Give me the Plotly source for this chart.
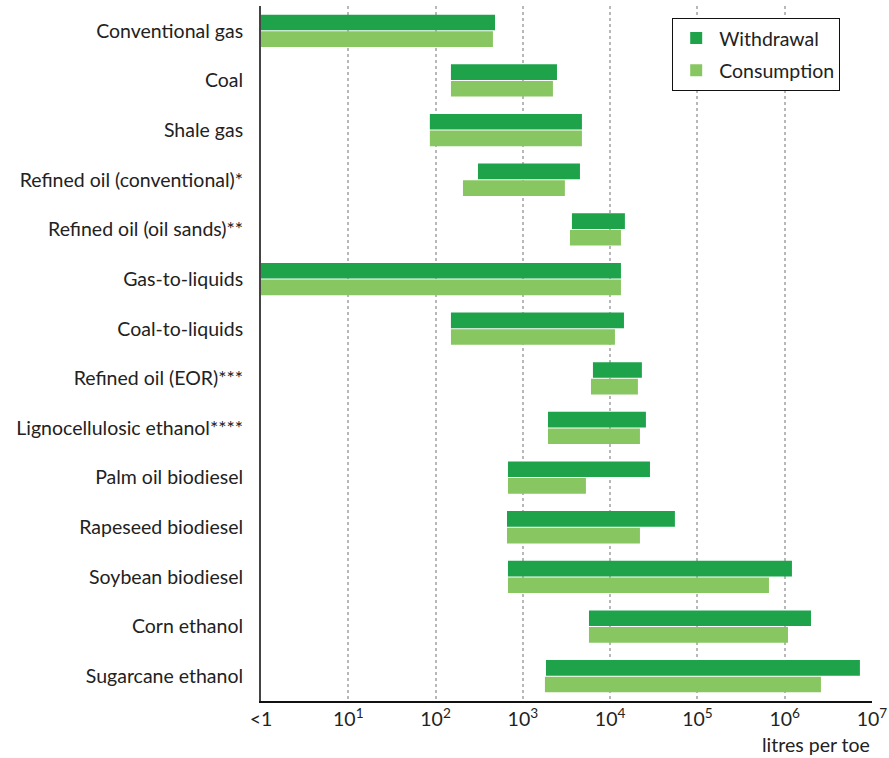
import plotly.graph_objects as go

# 카테고리 (위에서 아래 순서)
categories = [
    "Conventional gas", "Coal", "Shale gas", "Refined oil (conventional)*",
    "Refined oil (oil sands)**", "Gas-to-liquids", "Coal-to-liquids",
    "Refined oil (EOR)***", "Lignocellulosic ethanol****", "Palm oil biodiesel",
    "Rapeseed biodiesel", "Soybean biodiesel", "Corn ethanol", "Sugarcane ethanol",
]

# 리터/toe 범위 (최소, 최대)
withdrawal_min = [1, 150, 86, 306, 3650, 1, 150, 6350, 1940, 675, 658, 675, 5720, 1840]
withdrawal_max = [480, 2460, 4750, 4510, 14760, 13300, 14400, 23100, 25700, 28600, 55200, 1210000, 2000000, 7270000]
consumption_min = [1, 150, 86, 206, 3465, 1, 150, 6030, 1940, 675, 658, 675, 5720, 1790]
consumption_max = [454, 2210, 4750, 3030, 13300, 13300, 11350, 20800, 21950, 5280, 21950, 660000, 1090000, 2600000]

tick_vals = [1, 10, 100, 1000, 10000, 100000, 1000000, 10000000]
tick_text = ["<1", "10<sup>1</sup>", "10<sup>2</sup>", "10<sup>3</sup>", "10<sup>4</sup>",
             "10<sup>5</sup>", "10<sup>6</sup>", "10<sup>7</sup>"]

FONT = "Lato, 'Open Sans', sans-serif"
FS = 19.5

fig = go.Figure()
fig.add_trace(go.Bar(
    name="Withdrawal", y=categories, orientation="h", legendgroup="w",
    base=withdrawal_min,
    x=[hi - lo for lo, hi in zip(withdrawal_min, withdrawal_max)],
    marker=dict(color="#1EA34A", line=dict(width=0)),
))
fig.add_trace(go.Bar(
    name="Consumption", y=categories, orientation="h", legendgroup="c",
    base=consumption_min,
    x=[hi - lo for lo, hi in zip(consumption_min, consumption_max)],
    marker=dict(color="#88C661", line=dict(width=0)),
))

fig.update_layout(
    width=889, height=758,
    margin=dict(l=261, r=17, t=6, b=57),
    barmode="group", bargap=0.33, bargroupgap=0.06,
    plot_bgcolor="white", paper_bgcolor="white",
    font=dict(family=FONT, size=FS, color="#222"),
    showlegend=True,
    legend=dict(
        x=0.673, y=0.983, xanchor="left", yanchor="top",
        bgcolor="white", bordercolor="#111", borderwidth=1,
        font=dict(size=FS, color="#222"),
        itemwidth=36, tracegroupgap=4,
        entrywidth=166, entrywidthmode="pixels",
    ),
    xaxis=dict(
        type="log", range=[0, 7], automargin=False,
        tickvals=tick_vals, ticktext=tick_text,
        showgrid=True, gridcolor="#b8b8b8", griddash="dot", gridwidth=1.5,
        showline=True, linecolor="#111", linewidth=2,
        ticks="", tickfont=dict(size=FS), fixedrange=True,
    ),
    yaxis=dict(
        autorange="reversed", automargin=False,
        showgrid=False, showline=True, linecolor="#444", linewidth=2,
        ticks="", ticklabelstandoff=12, tickfont=dict(size=FS),
    ),
    annotations=[dict(
        text="litres per toe", xref="paper", yref="paper",
        x=1.0, y=-57 / 695, xanchor="right", yanchor="bottom",
        showarrow=False, font=dict(size=FS, color="#222"),
    )],
)

# 브라우저 기본 body 여백 제거
fig.write_html("out.html", config={"displayModeBar": False},
               post_script="document.body.style.margin='0';")
